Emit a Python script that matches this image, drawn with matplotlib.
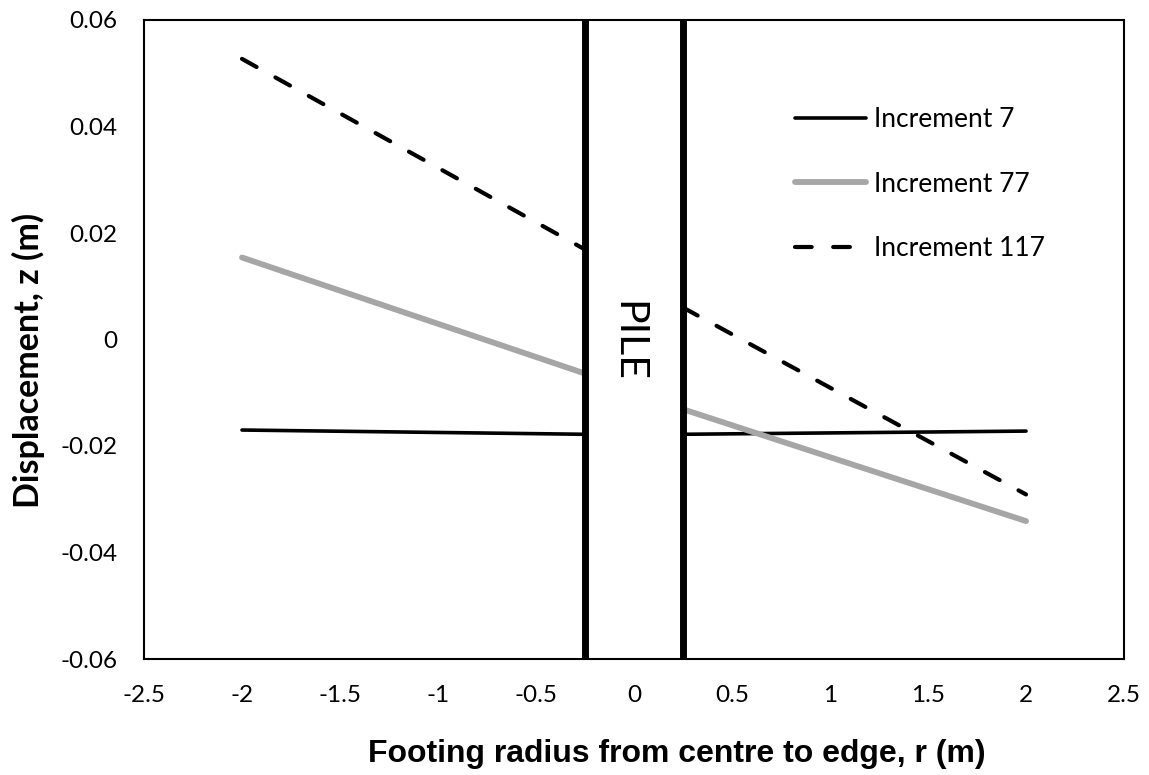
import matplotlib
matplotlib.use("Agg")
import matplotlib.pyplot as plt

# footing displacement profiles either side of the pile (r in m, z in m)
pile_edges = [-0.25, 0.25]

r_left = [-2.0, -0.25]
r_right = [0.25, 2.0]

inc7_left = [-0.0170, -0.0178]
inc7_right = [-0.0178, -0.0172]

inc77_left = [0.0154, -0.0064]
inc77_right = [-0.0131, -0.0341]

inc117_left = [0.0527, 0.0169]
inc117_right = [0.0060, -0.0291]

x_ticks = [-2.5, -2, -1.5, -1, -0.5, 0, 0.5, 1, 1.5, 2, 2.5]
x_tick_labels = ["-2.5", "-2", "-1.5", "-1", "-0.5", "0", "0.5", "1", "1.5", "2", "2.5"]
y_ticks = [-0.06, -0.04, -0.02, 0, 0.02, 0.04, 0.06]
y_tick_labels = ["-0.06", "-0.04", "-0.02", "0", "0.02", "0.04", "0.06"]

body_font = "Lato"
xlabel_font = "Liberation Sans"

W, H = 1149, 775
fig = plt.figure(figsize=(W / 100, H / 100), dpi=100)
ax = fig.add_axes([144 / W, 1 - 659 / H, 980 / W, 639 / H])

dash = (4, 5.17)

ax.plot(r_left, inc7_left, color="black", lw=2.6, solid_capstyle="round", label="Increment 7")
ax.plot(r_right, inc7_right, color="black", lw=2.6, solid_capstyle="round")

ax.plot(r_left, inc77_left, color="#a6a6a6", lw=4.2, solid_capstyle="round", label="Increment 77")
ax.plot(r_right, inc77_right, color="#a6a6a6", lw=4.2, solid_capstyle="round")

ax.plot(r_left, inc117_left, color="black", lw=3.0, dashes=dash, dash_capstyle="round",
        label="Increment 117")
ax.plot(r_right, inc117_right, color="black", lw=3.0, dashes=dash, dash_capstyle="round")

for xe in pile_edges:
    ax.axvline(xe, color="black", lw=5.0)

ax.text(-0.03, -0.0003, "PILE", rotation=-90, ha="center", va="center",
        fontsize=29.5, family=body_font)

ax.set_xlim(-2.5, 2.5)
ax.set_ylim(-0.06, 0.06)
ax.set_xticks(x_ticks)
ax.set_xticklabels(x_tick_labels)
ax.set_yticks(y_ticks)
ax.set_yticklabels(y_tick_labels)
ax.tick_params(length=0, pad=19, labelsize=17.5)
for lab in ax.get_xticklabels() + ax.get_yticklabels():
    lab.set_family(body_font)

for sp in ax.spines.values():
    sp.set_linewidth(1.5)

# axis titles placed on the figure so they sit where the layout wants them
fig.text(677 / W, 1 - 754 / H, "Footing radius from centre to edge, r (m)",
         ha="center", va="center", fontsize=23, fontweight="bold", family=xlabel_font)
fig.text(28 / W, 1 - 360 / H, "Displacement, z (m)", rotation=90,
         ha="center", va="center", fontsize=24.5, fontweight="bold", family=body_font)

leg = ax.legend(loc="upper left", bbox_to_anchor=((795 - 144) / 980, (659 - 107) / 639),
                frameon=False, borderpad=0, borderaxespad=0,
                handlelength=2.7, handletextpad=0.3, labelspacing=1.5,
                prop={"family": body_font, "size": 19})

fig.savefig("out.png", dpi=100)
